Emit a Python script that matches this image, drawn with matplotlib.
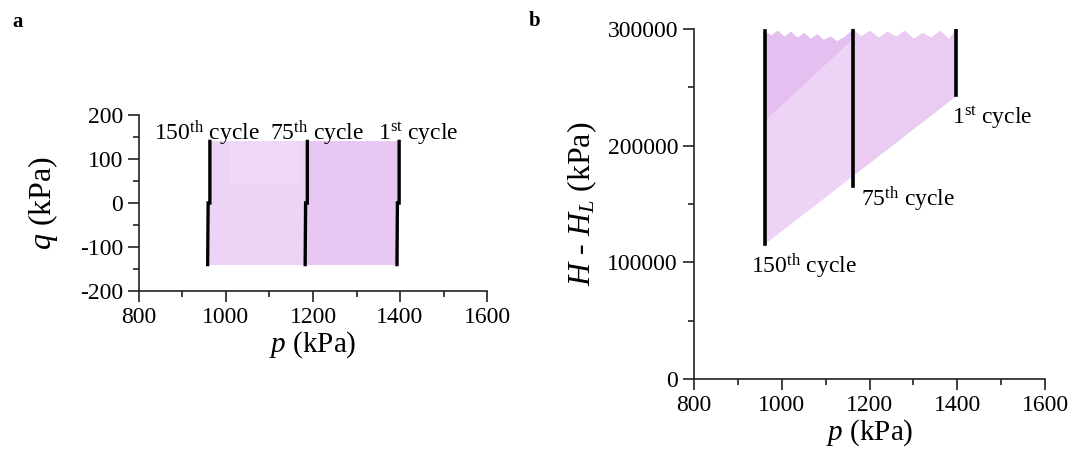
import numpy as np
import matplotlib.pyplot as plt

plt.rcParams['font.family'] = ['Liberation Serif', 'DejaVu Serif']
plt.rcParams['mathtext.fontset'] = 'custom'
plt.rcParams['mathtext.rm'] = 'Liberation Serif'
plt.rcParams['mathtext.it'] = 'Liberation Serif:italic'
plt.rcParams['axes.unicode_minus'] = False

# ---- data ----
cycle_labels = ['150$^{\\mathrm{th}}$ cycle', '75$^{\\mathrm{th}}$ cycle', '1$^{\\mathrm{st}}$ cycle']

# panel a: stress path p-q
p_cycle_a = [963, 1187, 1398]
q_max = 140
q_min = -140
p_step_a = [5, 5, 5]          # p shift of the lower (unloading) half of each marked cycle

# panel b: p vs H - H_L
p_cycle_b = [961, 1162, 1397]
h_bottom_b = [116000, 165000, 243000]
h_top_b = [298000, 300000, 300000]

p_env = [961, 975, 990, 1005, 1020, 1035, 1050, 1065, 1080, 1095, 1110, 1125, 1140, 1162,
         1180, 1200, 1220, 1240, 1260, 1280, 1300, 1320, 1340, 1360, 1380, 1397]
h_env_top = [298000, 295000, 299000, 294000, 298000, 293000, 297000, 292000, 296000, 291000,
             294000, 290000, 293000, 300000, 294000, 299000, 293000, 298000, 294000, 299000,
             292000, 297000, 293000, 299000, 292000, 300000]
p_env_low = [961, 1162, 1397]
h_env_low = [116000, 174500, 243000]
p_dark = [961, 1162]
h_dark_low = [222000, 292000]

fill_base = '#edd3f6'
fill_dark = '#e2bbee'
fill_right = '#e8c8f2'
fill_light = '#f0daf8'

fig = plt.figure(figsize=(10.73, 4.61), dpi=100)
ax1 = fig.add_axes([0.1295, 0.3688, 0.3244, 0.3817])
ax2 = fig.add_axes([0.6468, 0.1779, 0.3271, 0.7592])

def style(ax):
    for s in ['top', 'right']:
        ax.spines[s].set_visible(False)
    for s in ['left', 'bottom']:
        ax.spines[s].set_linewidth(1.2)
        ax.spines[s].set_color('#222222')
    ax.tick_params(which='major', direction='out', length=8, width=1.2, labelsize=17, color='#222222')
    ax.tick_params(which='minor', direction='out', length=4.5, width=1.2, color='#222222')
    ax.set_xlim(800, 1600)
    ax.set_xticks([800, 1000, 1200, 1400, 1600])
    ax.set_xticks([900, 1100, 1300, 1500], minor=True)
    ax.set_xlabel('$p$ (kPa)', fontsize=21, labelpad=1)

# ---- panel a ----
style(ax1)
ax1.fill_between([p_cycle_a[0], p_cycle_a[2]], q_min, q_max, color=fill_base, lw=0)
ax1.fill_between([p_cycle_a[1], p_cycle_a[2]], q_min, q_max, color=fill_right, lw=0)
ax1.fill_between([1010, 1170], 40, q_max, color=fill_light, lw=0, alpha=0.7)
for p, dp in zip(p_cycle_a, p_step_a):
    ax1.plot([p - dp, p - dp + 1, p, p], [q_min, 0, 0, q_max], color='black', lw=2.4,
             solid_joinstyle='miter')
ax1.set_ylim(-200, 200)
ax1.set_yticks([-200, -100, 0, 100, 200])
ax1.set_yticks([-150, -50, 50, 150], minor=True)
ax1.set_ylabel('$q$ (kPa)', fontsize=23, labelpad=14)
for x, lab in zip([834, 1101, 1350], cycle_labels):
    ax1.text(x, 158, lab, fontsize=17, ha='left', va='center')

# ---- panel b ----
style(ax2)
ax2.fill_between(p_env, np.interp(p_env, p_env_low, h_env_low), h_env_top, color=fill_base, lw=0)
pr_sel = [p for p in p_env if p >= p_cycle_b[1]]
hr_top = [h for p, h in zip(p_env, h_env_top) if p >= p_cycle_b[1]]
ax2.fill_between(pr_sel, np.interp(pr_sel, p_env_low, h_env_low), hr_top, color=fill_right, lw=0, alpha=0.6)
pd_sel = [p for p in p_env if p <= p_dark[1]]
hd_top = [h for p, h in zip(p_env, h_env_top) if p <= p_dark[1]]
ax2.fill_between(pd_sel, np.interp(pd_sel, p_dark, h_dark_low), hd_top, color=fill_dark, lw=0, alpha=0.8)
for p, lo, hi in zip(p_cycle_b, h_bottom_b, h_top_b):
    ax2.plot([p, p], [lo, hi], color='black', lw=2.6)
ax2.set_ylim(0, 300000)
ax2.set_yticks([0, 100000, 200000, 300000])
ax2.set_yticks([50000, 150000, 250000], minor=True)
ax2.set_ylabel('$H$ - $H_L$ (kPa)', fontsize=23, labelpad=6)
for x, y, lab in zip([931, 1181, 1387], [96600, 153700, 224000], cycle_labels):
    ax2.text(x, y, lab, fontsize=17, ha='left', va='center')

fig.text(12 / 1073, 1 - 22 / 461, 'a', fontsize=15, fontweight='bold', va='center', ha='left')
fig.text(529 / 1073, 1 - 21 / 461, 'b', fontsize=15, fontweight='bold', va='center', ha='left')

fig.savefig('out.png', dpi=100, facecolor='white')
